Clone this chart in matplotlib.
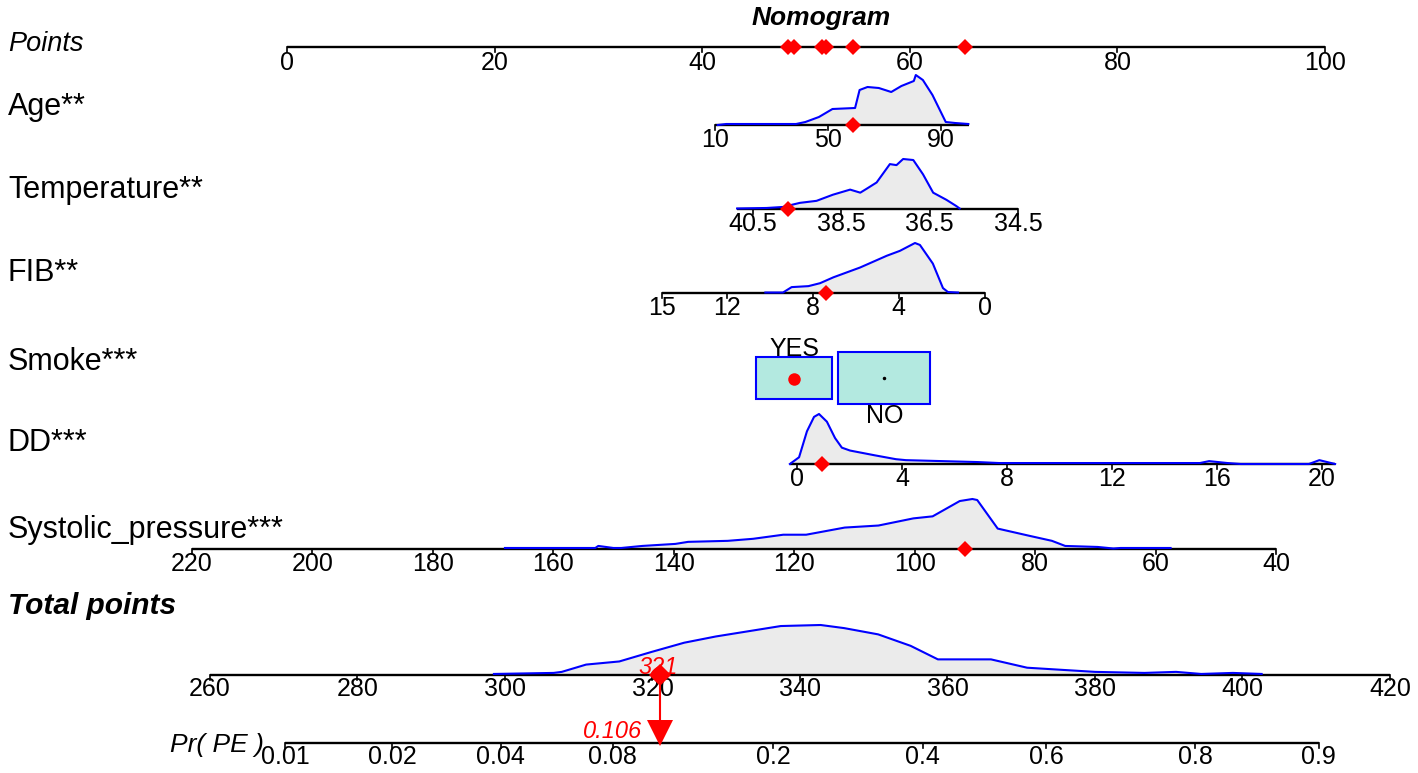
import numpy as np
import matplotlib.pyplot as plt
from matplotlib.patches import Rectangle
from matplotlib.transforms import blended_transform_factory

plt.rcParams['font.family'] = ['Liberation Sans', 'DejaVu Sans']

# ---- data ----
point_ticks = [0, 20, 40, 60, 80, 100]

# each predictor: value -> points is linear through two anchors
age_anchor = [(10, 41.23), (90, 63.0)]
age_span = [10, 100]
age_ticks = [10, 50, 90]
age_obs = 58.7
age_dens_v = [11, 14, 15, 38.7, 42, 46.8, 51.6, 59.6, 61.2, 64, 68, 72.4, 76, 80.4, 81.1, 83.6, 87, 91.7, 95, 99.7]
age_dens_h = [0, 1, 1, 1, 3, 8, 16, 17, 35, 38, 37, 33, 39, 44, 50, 45, 30, 3, 2, 1]

temp_anchor = [(40.5, 44.89), (34.5, 70.42)]
temp_span = [40.86, 34.5]
temp_ticks = [40.5, 38.5, 36.5, 34.5]
temp_obs = 39.7
temp_dens_v = [40.86, 40.19, 39.82, 39.44, 39.06, 38.69, 38.3, 38.07, 37.92, 37.7, 37.4, 37.25, 37.1, 36.87, 36.65, 36.42, 36.12, 35.9, 35.82]
temp_dens_h = [0.5, 1, 2, 6, 8, 14, 19, 16, 20, 26, 44, 43, 49, 48, 34, 16, 9, 3, 0.5]

fib_anchor = [(15, 36.13), (0, 67.24)]
fib_span = [15, 0]
fib_ticks = [15, 12, 8, 4, 0]
fib_obs = 7.4
fib_dens_v = [10.2, 9.38, 8.98, 8.2, 7.66, 7.04, 5.8, 4.56, 3.95, 3.25, 3.02, 2.42, 1.95, 1.72, 1.25]
fib_dens_h = [0.5, 0.5, 6, 7, 10, 16, 26, 38, 43, 51, 49, 30, 5, 1, 0.5]

smoke_levels = ['YES', 'NO']
smoke_points = [48.85, 57.55]
smoke_freq = [0.40, 0.60]
smoke_obs = 'YES'

dd_anchor = [(0, 49.13), (20, 99.71)]
dd_span = [-0.27, 20.5]
dd_ticks = [0, 4, 8, 12, 16, 20]
dd_obs = 0.95
dd_dens_v = [-0.27, 0.08, 0.38, 0.65, 0.84, 1.14, 1.45, 1.71, 2.02, 2.4, 2.97, 3.77, 4.15, 6.9, 7.7, 15.35, 15.7, 16.4, 16.9, 19.5, 19.9, 20.5]
dd_dens_h = [0, 7, 34, 49, 52, 44, 27, 17, 14, 12, 9, 5, 4, 2, 1, 1, 3, 1, 0, 0, 4, 0]

sbp_anchor = [(220, -9.18), (40, 95.28)]
sbp_span = [220, 40]
sbp_ticks = [220, 200, 180, 160, 140, 120, 100, 80, 60, 40]
sbp_obs = 91.7
sbp_dens_v = [168, 153, 152.5, 150, 148.7, 145.2, 139.7, 137.6, 131, 126.8, 121.8, 118, 111.6, 106, 100.2, 97, 92.5, 90.4, 89.6, 86.2, 81, 77.2, 75, 69.6, 67, 65.8, 57.5]
sbp_dens_h = [1, 1, 3, 1, 1, 3, 5, 7, 8, 10, 14, 14, 21, 23, 30, 32, 47, 49, 48, 20, 13, 8, 3, 2, 0.5, 1, 1]

total_ticks = [260, 280, 300, 320, 340, 360, 380, 400, 420]
total_obs = 321
total_dens_v = [298.5, 306.6, 307.7, 311, 315.5, 319.8, 324.3, 328.6, 333, 337.4, 342.8, 346, 350.6, 355, 358.7, 365.9, 370.8, 380, 386.7, 391, 394.4, 398.7, 402.6]
total_dens_h = [1, 2, 3, 10, 13, 22, 31, 37, 42, 47, 48, 45, 39, 28, 15, 15, 7, 3, 2, 3, 1, 2, 1]

pr_ticks = [0.01, 0.02, 0.04, 0.08, 0.2, 0.4, 0.6, 0.8, 0.9]
pr_obs = 0.106
lp_slope = 0.04846
lp_intercept = -17.688

# ---- layout ----
PX = 10.38             # pixels per point
X0 = -287 / PX          # left figure edge in points units
X1 = (1418 - 287) / PX
total_pos = [(260, -7.42), (420, 106.26)]   # where the total scale sits
DENS_H = 50
RED = '#FF0000'


def lin(v, anchor):
    (v0, p0), (v1, p1) = anchor
    return p0 + (np.asarray(v, dtype=float) - v0) * (p1 - p0) / (v1 - v0)


fig = plt.figure(figsize=(14.18, 7.73), dpi=100)
ax = fig.add_axes([0, 0, 1, 1])
ax.set_xlim(X0, X1)
ax.set_ylim(773, 0)
ax.axis('off')
lab_tr = blended_transform_factory(ax.transAxes, ax.transData)


def axis_line(y, lo, hi, tick_x, tick_lab, lab_dy=15):
    ax.plot([lo, hi], [y, y], color='black', lw=1.7, solid_capstyle='butt', zorder=3)
    for x, t in zip(tick_x, tick_lab):
        ax.plot([x, x], [y, y + 5], color='black', lw=1.2, zorder=3)
        ax.text(x, y + lab_dy, t, ha='center', va='center', fontsize=18, zorder=2)


def density(y, xs, hs):
    hs = np.asarray(hs, dtype=float)
    top = y - hs / hs.max() * DENS_H
    ax.fill_between(xs, y, top, color='#EBEBEB', lw=0, zorder=1)
    ax.plot(xs, top, color='#0000FF', lw=1.5, zorder=4)


def var_label(y, text, **kw):
    ax.text(8 / 1418, y, text, transform=lab_tr, ha='left', va='center', **kw)


ax.text(lin(821, [(287, 0), (1325, 100)]), 18, 'Nomogram', ha='center', va='center',
        fontsize=19, fontweight='bold', fontstyle='italic')

# Points scale
y_pts = 47
var_label(44, 'Points', fontsize=19.5, fontstyle='italic')
axis_line(y_pts, 0, 100, point_ticks, [str(t) for t in point_ticks], lab_dy=16)

rows = [
    ('Age**', 107, 125, age_anchor, age_span, age_ticks, age_obs, age_dens_v, age_dens_h),
    ('Temperature**', 190, 209, temp_anchor, temp_span, temp_ticks, temp_obs, temp_dens_v, temp_dens_h),
    ('FIB**', 273, 293, fib_anchor, fib_span, fib_ticks, fib_obs, fib_dens_v, fib_dens_h),
    ('DD***', 443, 464, dd_anchor, dd_span, dd_ticks, dd_obs, dd_dens_v, dd_dens_h),
    ('Systolic_pressure***', 530, 549, sbp_anchor, sbp_span, sbp_ticks, sbp_obs, sbp_dens_v, sbp_dens_h),
]

obs_points = []
for name, ly, y, anc, span, ticks, obs, dv, dh in rows:
    var_label(ly, name, fontsize=22)
    density(y, lin(dv, anc), dh)
    axis_line(y, *lin(span, anc), lin(ticks, anc), [f'{t:g}' for t in ticks], lab_dy=15)
    p = float(lin(obs, anc))
    obs_points.append(p)
    ax.plot(p, y, marker='D', ms=8, color=RED, mew=0, zorder=6)

# Smoke boxes
y_smk = 378
var_label(362, 'Smoke***', fontsize=22)
for i, (lev, p, f) in enumerate(zip(smoke_levels, smoke_points, smoke_freq)):
    w = 119 / PX * np.sqrt(f)
    h = 67 * np.sqrt(f)
    ax.add_patch(Rectangle((p - w / 2, y_smk - h / 2), w, h, facecolor='#B3E9E0',
                           edgecolor='#0000FF', lw=1.5, zorder=3))
    ly = y_smk - h / 2 - 8 if i == 0 else y_smk + h / 2 + 12
    ax.text(p, ly, lev, ha='center', va='center', fontsize=18, zorder=4)
    if lev == smoke_obs:
        ax.plot(p, y_smk + 1, marker='o', ms=9, color=RED, mew=0, zorder=6)
        obs_points.append(p)
    else:
        ax.plot(p, y_smk, marker='o', ms=1.5, color='black', zorder=6)

for p in obs_points:
    ax.plot(p, y_pts, marker='D', ms=8, color=RED, mew=0, zorder=6)

# Total points
y_tot = 675
var_label(606, 'Total points', fontsize=21.5, fontweight='bold', fontstyle='italic')
density(y_tot, lin(total_dens_v, total_pos), total_dens_h)
axis_line(y_tot, *lin([total_ticks[0], total_ticks[-1]], total_pos),
          lin(total_ticks, total_pos), [str(t) for t in total_ticks], lab_dy=14)

# Probability scale (logit of linear predictor)
y_pr = 743
pr_ticks_arr = np.array(pr_ticks)
pr_as_total = (np.log(pr_ticks_arr / (1 - pr_ticks_arr)) - lp_intercept) / lp_slope
pr_x = lin(pr_as_total, total_pos)
axis_line(y_pr, pr_x[0], pr_x[-1], pr_x, [f'{t:g}' for t in pr_ticks], lab_dy=14)
ax.text(pr_x[0] - 11.1, 745, 'Pr( PE )', ha='left', va='center', fontsize=19, fontstyle='italic')

tx = float(lin(total_obs, total_pos))
ax.plot([tx, tx], [y_tot, y_pr - 18], color=RED, lw=1.5, zorder=5)
ax.plot(tx, y_tot, marker='D', ms=11, color=RED, mew=0, zorder=6)
ax.plot(tx, y_pr - 10, marker='v', ms=19, color=RED, mew=0, zorder=6)
ax.text(tx - 0.2, 667, f'{total_obs}', ha='center', va='center', fontsize=17,
        fontstyle='italic', color=RED, zorder=7)
ax.text(tx - 1.7, 732, f'{pr_obs:.3f}', ha='right', va='center', fontsize=17,
        fontstyle='italic', color=RED, zorder=7)

fig.savefig('out.png', dpi=100)
